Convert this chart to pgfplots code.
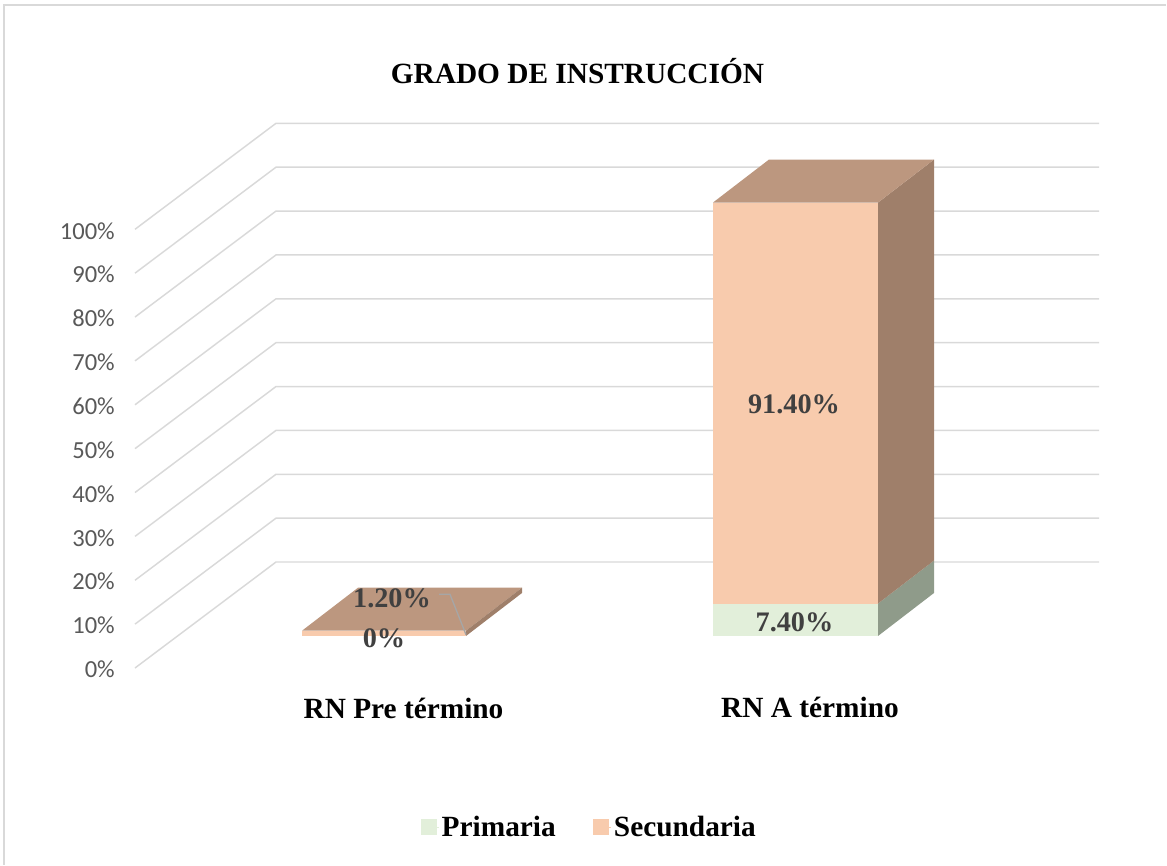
\documentclass[border=0pt]{standalone}
\usepackage{pgfplots}
\pgfplotsset{compat=1.18}
\usepackage{fontspec}
\setmainfont{Liberation Serif}
\newfontfamily\calibri{Carlito}
\definecolor{gridc}{HTML}{D9D9D9}
\definecolor{ticktxt}{HTML}{595959}
\definecolor{lab}{HTML}{404040}
\definecolor{frontg}{HTML}{E2EFDA}
\definecolor{sideg}{HTML}{8F9B8A}
\definecolor{fronto}{HTML}{F8CBAD}
\definecolor{topo}{HTML}{BC977F}
\definecolor{sideo}{HTML}{9F7F6A}
\pgfplotsset{
  base/.style={
    scale only axis, width=875.25pt, height=649.5pt,
    xmin=0, xmax=1167, clip=false,
    axis line style={draw=none}, tick style={draw=none}, major tick length=0pt,
    anchor=south west, at={(0pt,0pt)},
  }
}
\begin{document}
\begin{tikzpicture}
% walls and value axis: 0 % on the front edge at pixel 668
\begin{axis}[base,
  ymin=-45.13, ymax=152.27,
  xtick=\empty,
  ytick={0,10,20,30,40,50,60,70,80,90,100},
  yticklabels={0\%,10\%,20\%,30\%,40\%,50\%,60\%,70\%,80\%,90\%,100\%},
  y tick label style={anchor=east, xshift=86.25pt, yshift=-1.1pt, inner sep=0pt,
     font=\calibri\fontsize{18.4pt}{20pt}\selectfont, text=ticktxt},
]
\addplot[gridc, line width=1.3pt] coordinates {(4,-44.9)(4,151.2)(1166,151.2)};
\addplot[gridc, line width=1.1pt] coordinates {(135,0)(276,24.16)(1099,24.16)};
\addplot[gridc, line width=1.1pt] coordinates {(135,10)(276,34.16)(1099,34.16)};
\addplot[gridc, line width=1.1pt] coordinates {(135,20)(276,44.16)(1099,44.16)};
\addplot[gridc, line width=1.1pt] coordinates {(135,30)(276,54.16)(1099,54.16)};
\addplot[gridc, line width=1.1pt] coordinates {(135,40)(276,64.16)(1099,64.16)};
\addplot[gridc, line width=1.1pt] coordinates {(135,50)(276,74.16)(1099,74.16)};
\addplot[gridc, line width=1.1pt] coordinates {(135,60)(276,84.16)(1099,84.16)};
\addplot[gridc, line width=1.1pt] coordinates {(135,70)(276,94.16)(1099,94.16)};
\addplot[gridc, line width=1.1pt] coordinates {(135,80)(276,104.16)(1099,104.16)};
\addplot[gridc, line width=1.1pt] coordinates {(135,90)(276,114.16)(1099,114.16)};
\addplot[gridc, line width=1.1pt] coordinates {(135,100)(276,124.16)(1099,124.16)};
\end{axis}
% bars: base on the front floor at pixel 636
\begin{axis}[base,
  ymin=-52.43, ymax=144.97,
  ytick=\empty,
  xtick={403.5,810},
  xticklabels={RN Pre término,\raisebox{1.5pt}{RN A término}},
  x tick label style={anchor=center, yshift=118.5pt, inner sep=0pt, text=black,
     font=\bfseries\fontsize{22pt}{24pt}\selectfont},
  title={GRADO DE INSTRUCCIÓN},
  title style={at={(577.5/1167,1-79/866)}, anchor=center, inner sep=0pt,
     font=\bfseries\fontsize{22pt}{24pt}\selectfont},
  legend columns=2,
  legend style={at={(589.5/1167,1-827/866)}, anchor=center, draw=none, fill=none,
     font=\bfseries\fontsize{22pt}{24pt}\selectfont,
     /tikz/every even column/.append style={column sep=25.75pt}},
  legend image code/.code={\fill[#1] (0pt,-5.6pt) rectangle (11.25pt,5.6pt); \path (0pt,0pt) -- (13.5pt,0pt);},
]
\addlegendimage{frontg}\addlegendentry{Primaria}
\addlegendimage{fronto}\addlegendentry{Secundaria}
% RN Pre termino: Primaria 0, Secundaria 1.2
\addplot[fill=fronto, draw=none, forget plot] coordinates {(302,0)(466,0)(466,1.2)(302,1.2)} --cycle;
\addplot[fill=topo, draw=none, forget plot] coordinates {(302,1.2)(466,1.2)(522,11.0)(358,11.0)} --cycle;
\addplot[fill=sideo, draw=none, forget plot] coordinates {(466,0)(522,9.8)(522,11.0)(466,1.2)} --cycle;
\addplot[color=black!35, line width=1pt, forget plot] coordinates {(439,9.5)(450,9.5)(466,0.3)};
% RN A termino: Primaria 7.4, Secundaria 91.4
\addplot[fill=frontg, draw=none, forget plot] coordinates {(713,0)(878,0)(878,7.4)(713,7.4)} --cycle;
\addplot[fill=fronto, draw=none, forget plot] coordinates {(713,7.4)(878,7.4)(878,98.8)(713,98.8)} --cycle;
\addplot[fill=sideg, draw=none, forget plot] coordinates {(878,0)(934,9.8)(934,17.2)(878,7.4)} --cycle;
\addplot[fill=sideo, draw=none, forget plot] coordinates {(878,7.4)(934,17.2)(934,108.6)(878,98.8)} --cycle;
\addplot[fill=topo, draw=none, forget plot] coordinates {(713,98.8)(878,98.8)(934,108.6)(769,108.6)} --cycle;
\node[text=lab, font=\bfseries\fontsize{21.2pt}{24pt}\selectfont] at (axis cs:794,52.9) {91.40\%};
\node[text=lab, font=\bfseries\fontsize{21.2pt}{24pt}\selectfont] at (axis cs:794.5,3.2) {7.40\%};
\node[text=lab, font=\bfseries\fontsize{21.2pt}{24pt}\selectfont] at (axis cs:392,8.7) {1.20\%};
\node[text=lab, font=\bfseries\fontsize{21.2pt}{24pt}\selectfont] at (axis cs:384,-0.5) {0\%};
\end{axis}
\end{tikzpicture}
\end{document}
